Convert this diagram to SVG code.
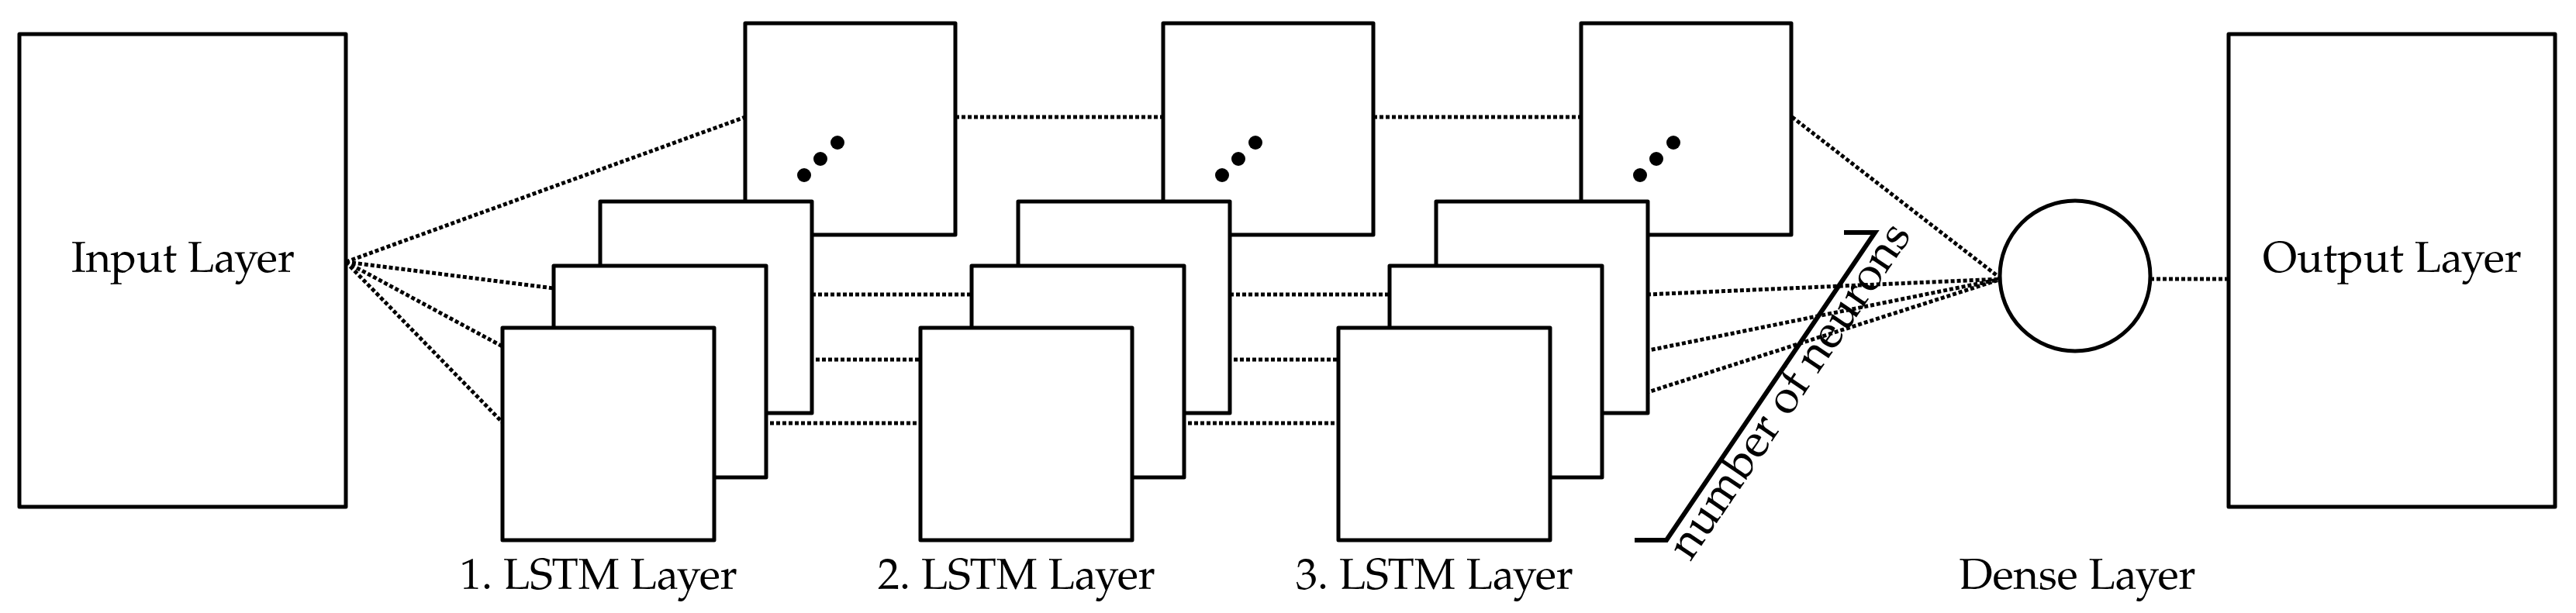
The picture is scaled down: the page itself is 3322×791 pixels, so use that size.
<svg xmlns="http://www.w3.org/2000/svg" width="3322" height="791" viewBox="0 0 3322 791">
<style>
.b{fill:#fff;stroke:#000;stroke-width:5;stroke-linejoin:round}
.d{fill:none;stroke:#000;stroke-width:5;stroke-dasharray:5 3}
.t{font-family:"TeX Gyre Pagella","Liberation Serif",serif;font-size:56px;fill:#000;text-anchor:middle}
</style>
<defs>
<g id="layer">
<rect class="b" x="961" y="30" width="271" height="273"/>
<circle cx="1037" cy="226" r="9"/><circle cx="1058" cy="205" r="9"/><circle cx="1080" cy="184" r="9"/>
<rect class="b" x="774" y="260" width="273" height="273"/>
<rect class="b" x="714" y="343" width="274" height="273"/>
<rect class="b" x="648" y="423" width="273" height="274"/>
</g>
</defs>
<g id="connectors">
<path class="d" d="M446 338L961 151M446 338L714 372M446 338L648 447M446 338L648 545"/>
<path class="d" d="M1232 151H1500M1047 380H1313M988 464H1252M921 546H1187"/>
<path class="d" d="M1771 151H2039M1586 380H1852M1527 464H1791M1460 546H1726"/>
<path class="d" d="M2311 151L2581 360M2124 380L2581 360M2067 464L2581 360M2000 546L2581 360"/>
<path class="d" d="M2773 360H2874"/>
</g>
<g id="input"><rect class="b" x="25" y="44" width="421" height="610"/><text class="t" x="236" y="351">Input Layer</text></g>
<g id="lstm1"><use href="#layer"/><text class="t" x="772" y="760">1. LSTM Layer</text></g>
<g id="lstm2"><use href="#layer" x="539"/><text class="t" x="1311" y="760">2. LSTM Layer</text></g>
<g id="lstm3"><use href="#layer" x="1078"/><text class="t" x="1850" y="760">3. LSTM Layer</text></g>
<g id="neurons"><path d="M2108 697H2149L2418 300H2378" fill="none" stroke="#000" stroke-width="6"/>
<text class="t" x="0" y="0" style="font-size:60px" transform="translate(2323 514) rotate(-55.9)">number of neurons</text></g>
<g id="dense"><circle class="b" cx="2676" cy="356" r="97"/><text class="t" x="2679" y="760">Dense Layer</text></g>
<g id="output"><rect class="b" x="2874" y="44" width="421" height="610"/><text class="t" x="3085" y="351">Output Layer</text></g>
</svg>
